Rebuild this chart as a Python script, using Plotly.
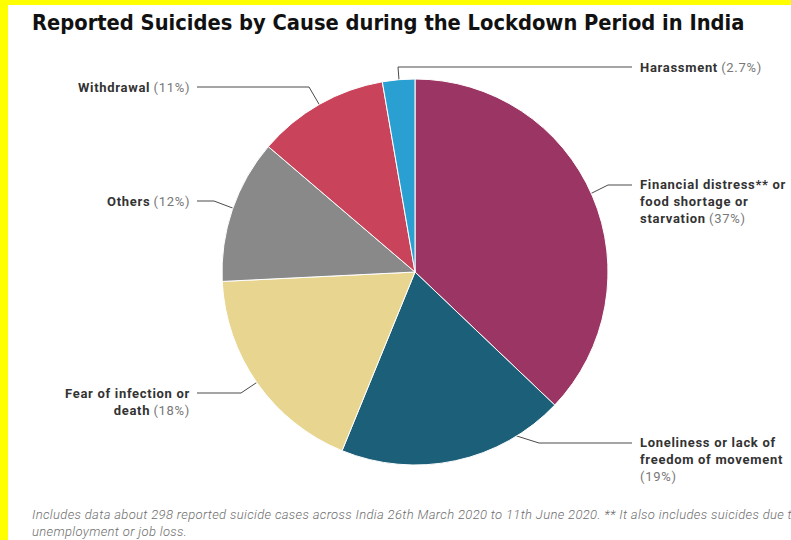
import math
import plotly.graph_objects as go

# ---- data ----
categories = ["Financial distress** or food shortage or starvation",
              "Loneliness or lack of freedom of movement",
              "Fear of infection or death",
              "Others",
              "Withdrawal",
              "Harassment"]
values = [37, 19, 18, 12, 11, 2.7]
pct_labels = ["37%", "19%", "18%", "12%", "11%", "2.7%"]
label_html = ["Financial distress** or<br>food shortage or<br>starvation",
              "Loneliness or lack of<br>freedom of movement<br>",
              "Fear of infection or<br>death",
              "Others",
              "Withdrawal",
              "Harassment"]
colors = ["#9b3563", "#1b5f78", "#e8d590", "#898989", "#c9445a", "#2aa0d2"]

W, H = 791, 540
CX, CY, R = 415, 272, 193

# label layout: (anchor x, anchor y (middle), side, elbow point, line end x)
label_layout = [
    dict(x=638, y=201, side="right", elbow=(608, 185), end=632),
    dict(x=638, y=459, side="right", elbow=(539, 443), end=632),
    dict(x=192, y=402, side="left", elbow=(241, 393), end=197),
    dict(x=192, y=201, side="left", elbow=(214, 201), end=197),
    dict(x=192, y=87, side="left", elbow=(309, 87), end=197),
    dict(x=638, y=67, side="right", elbow=(398, 67), end=632),
]

fig = go.Figure()

fig.add_trace(go.Pie(
    labels=categories, values=values, sort=False, direction="clockwise",
    rotation=0, textinfo="none", hoverinfo="label+percent",
    marker=dict(colors=colors, line=dict(color="white", width=1)),
    domain=dict(x=[(CX - R) / W, (CX + R) / W], y=[1 - (CY + R) / H, 1 - (CY - R) / H]),
    showlegend=False,
))

LS = "letter-spacing:0.7px"
total = sum(values)
cum = 0
annotations = []
for i, v in enumerate(values):
    mid = (cum + v / 2) / total * 2 * math.pi
    cum += v
    dx = CX + 0.75 * R * math.sin(mid)
    dy = CY - 0.75 * R * math.cos(mid)
    lay = label_layout[i]
    ex, ey = lay["elbow"]
    fig.add_trace(go.Scatter(
        x=[dx, ex, lay["end"]], y=[dy, ey, ey], mode="lines",
        line=dict(color="#4a4a4a", width=1), hoverinfo="skip", showlegend=False,
        xaxis="x", yaxis="y"))
    fig.add_trace(go.Scatter(
        x=[dx], y=[dy], mode="markers", marker=dict(color="#2a2a2a", size=5),
        hoverinfo="skip", showlegend=False, xaxis="x", yaxis="y"))
    parts = label_html[i].split("<br>")
    pct = f"<span style='font-weight:normal;color:#777777;{LS}'>({pct_labels[i]})</span>"
    if parts[-1] == "":
        body = "<br>".join(f"<span style='{LS}'><b>{p}</b></span>" for p in parts[:-1])
        text = body + "<br>" + pct
    else:
        body = "<br>".join(f"<span style='{LS}'><b>{p}</b></span>" for p in parts)
        text = body + " " + pct
    annotations.append(dict(
        x=lay["x"], y=lay["y"], xref="x", yref="y", text=text, showarrow=False,
        xanchor="left" if lay["side"] == "right" else "right", yanchor="middle",
        align="left" if lay["side"] == "right" else "right",
        font=dict(family="Roboto", size=13, color="#333333")))

annotations.append(dict(
    x=30, y=22, xref="x", yref="y", text="<b>Reported Suicides by Cause during the Lockdown Period in India</b>",
    showarrow=False, xanchor="left", yanchor="middle",
    font=dict(family="DejaVu Sans Condensed, Roboto", size=21.7, color="#111111")))
FS = "letter-spacing:0.35px"
annotations.append(dict(
    x=30, y=523, xref="x", yref="y",
    text=f"<span style='{FS}'><i>Includes data about 298 reported suicide cases across India 26th March 2020 to 11th June 2020. ** It also includes suicides due to</i></span><br><span style='{FS}'><i>unemployment or job loss.</i></span>",
    showarrow=False, xanchor="left", yanchor="middle", align="left",
    font=dict(family="Roboto", size=13, color="#6e6e6e", weight=300)))

fig.update_layout(
    width=W, height=H, margin=dict(l=0, r=0, t=0, b=0),
    paper_bgcolor="white", plot_bgcolor="rgba(0,0,0,0)",
    xaxis=dict(range=[0, W], visible=False, domain=[0, 1], fixedrange=True),
    yaxis=dict(range=[H, 0], visible=False, domain=[0, 1], fixedrange=True),
    annotations=annotations,
    shapes=[
        dict(type="rect", xref="paper", yref="paper", x0=0, x1=8 / W, y0=0, y1=1,
             fillcolor="#ffff00", line=dict(width=0), layer="above"),
        dict(type="rect", xref="paper", yref="paper", x0=0, x1=1, y0=1 - 5 / H, y1=1,
             fillcolor="#ffff00", line=dict(width=0), layer="above"),
    ],
)

fig.write_html("out.html", config={"displayModeBar": False},
               post_script="document.body.style.margin='0';document.body.style.overflow='hidden';")
